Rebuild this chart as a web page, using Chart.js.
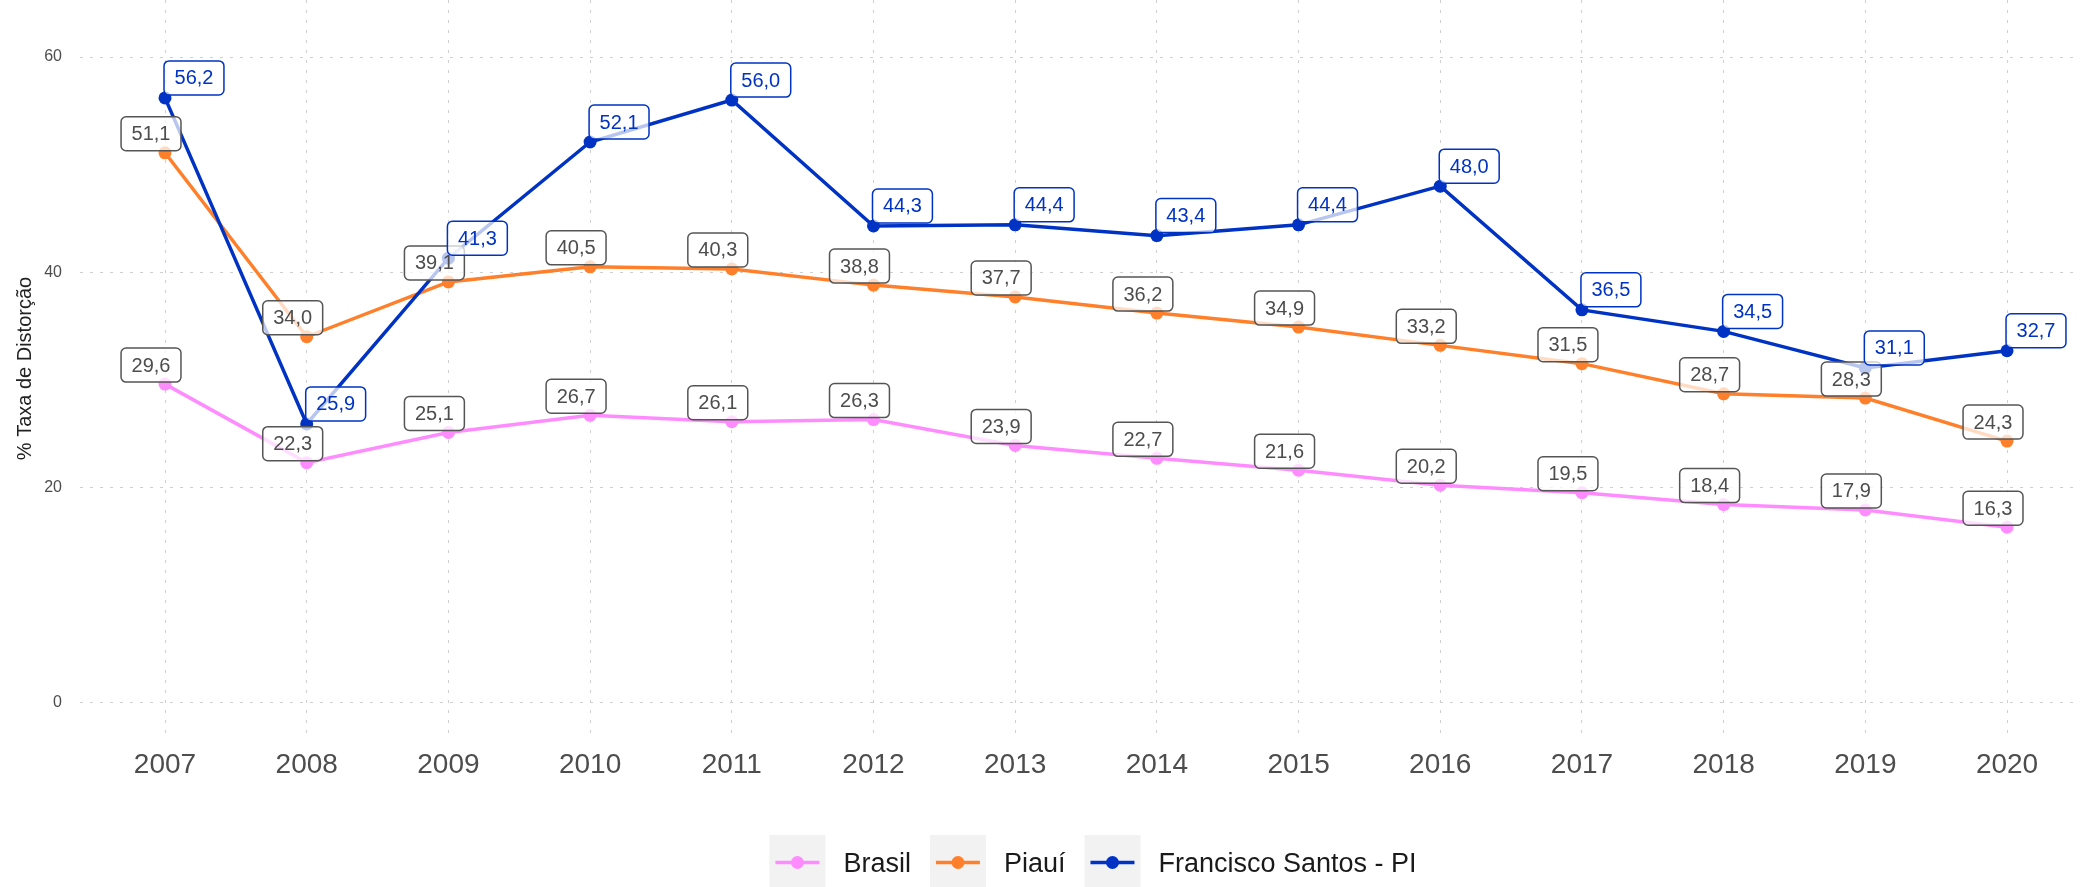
<!DOCTYPE html>
<html>
<head>
<meta charset="utf-8">
<script src="https://cdn.jsdelivr.net/npm/chart.js@4.4.1/dist/chart.umd.min.js"></script>
<style>
  html, body { margin: 0; padding: 0; background: #fff; overflow: hidden; }
  #wrap { width: 2080px; height: 887px; }
</style>
</head>
<body>
<div id="wrap"><canvas id="chart" width="2080" height="887"></canvas></div>
<script>
const years = [2007, 2008, 2009, 2010, 2011, 2012, 2013, 2014, 2015, 2016, 2017, 2018, 2019, 2020]
const brasil = [29.6, 22.3, 25.1, 26.7, 26.1, 26.3, 23.9, 22.7, 21.6, 20.2, 19.5, 18.4, 17.9, 16.3]
const piaui = [51.1, 34.0, 39.1, 40.5, 40.3, 38.8, 37.7, 36.2, 34.9, 33.2, 31.5, 28.7, 28.3, 24.3]
const franciscoSantos = [56.2, 25.9, 41.3, 52.1, 56.0, 44.3, 44.4, 43.4, 44.4, 48.0, 36.5, 34.5, 31.1, 32.7]
const seriesNames = ["Brasil", "Piauí", "Francisco Santos - PI"]

const FONT = "'Liberation Sans', Arial, Helvetica, sans-serif"
const PINK = "#ff8cff"
const ORANGE = "#ff7f2a"
const BLUE = "#0033c4"
const GRID = "#cfcfcf"

const fmt = v => v.toFixed(1).replace(".", ",")
const toPoints = values => years.map((x, i) => ({ x, y: values[i] }))

const makeDataset = (label, values, color, labelStyle, order) => ({
  label,
  data: toPoints(values),
  borderColor: color,
  backgroundColor: color,
  borderWidth: 3.5,
  pointRadius: 6.5,
  pointBorderWidth: 0,
  pointHoverRadius: 6.5,
  tension: 0,
  labelStyle,
  order,
})

// boxed value labels: grey ones sit above-left of the point, blue ones above-right
const valueLabels = {
  id: "valueLabels",
  afterDatasetsDraw(chart) {
    const { ctx } = chart
    ctx.save()
    ctx.font = `20px ${FONT}`
    ctx.textAlign = "center"
    ctx.textBaseline = "middle"
    ctx.lineWidth = 1.5

    chart.data.datasets.forEach((ds, i) => {
      const meta = chart.getDatasetMeta(i)
      const blue = ds.labelStyle === "blue"
      meta.data.forEach((pt, j) => {
        const text = fmt(ds.data[j].y)
        const w = ctx.measureText(text).width + 21
        const h = 34
        const left = blue ? pt.x - 1 : pt.x - 14 - w / 2
        const top = blue ? pt.y - 3 - h : pt.y - 2 - h

        ctx.beginPath()
        ctx.roundRect(left, top, w, h, 5)
        ctx.fillStyle = "rgba(255,255,255,0.72)"
        ctx.fill()
        ctx.strokeStyle = blue ? BLUE : "#555555"
        ctx.stroke()

        ctx.fillStyle = blue ? BLUE : "#4d4d4d"
        ctx.fillText(text, left + w / 2, top + h / 2 + 1)
      })
    })
    ctx.restore()
  },
}

// legend along the bottom: grey key squares with a line and a dot
const bottomLegend = {
  id: "bottomLegend",
  afterDraw(chart) {
    const { ctx } = chart
    const keyW = 56
    const keyTop = 835
    const keyToText = 18
    const textToKey = 19
    const centre = 1093

    ctx.save()
    ctx.font = `27px ${FONT}`
    const items = chart.data.datasets.map(ds => ({
      label: ds.label,
      color: ds.borderColor,
      width: ctx.measureText(ds.label).width,
    }))
    const total = items.reduce((s, it) => s + keyW + keyToText + it.width, 0) + textToKey * (items.length - 1)
    let x = centre - total / 2

    items.forEach(it => {
      ctx.fillStyle = "#f2f2f2"
      ctx.fillRect(x, keyTop, keyW, 60)

      const midY = 862.5
      ctx.strokeStyle = it.color
      ctx.lineWidth = 3.5
      ctx.beginPath()
      ctx.moveTo(x + 6, midY)
      ctx.lineTo(x + keyW - 6, midY)
      ctx.stroke()
      ctx.fillStyle = it.color
      ctx.beginPath()
      ctx.arc(x + keyW / 2, midY, 6.5, 0, Math.PI * 2)
      ctx.fill()

      ctx.fillStyle = "#1a1a1a"
      ctx.textAlign = "left"
      ctx.textBaseline = "middle"
      ctx.fillText(it.label, x + keyW + keyToText, midY + 2)

      x += keyW + keyToText + it.width + textToKey
    })
    ctx.restore()
  },
}

new Chart(document.getElementById("chart"), {
  type: "line",
  data: {
    datasets: [
      makeDataset(seriesNames[0], brasil, PINK, "grey", 3),
      makeDataset(seriesNames[1], piaui, ORANGE, "grey", 2),
      makeDataset(seriesNames[2], franciscoSantos, BLUE, "blue", 1),
    ],
  },
  options: {
    responsive: false,
    animation: false,
    layout: { padding: 0, autoPadding: false },
    scales: {
      x: {
        type: "linear",
        min: 2006.4,
        max: 2020.515,
        afterFit: scale => {
          scale.height = 150
          scale.paddingLeft = 0
          scale.paddingRight = 0
        },
        border: { display: false, dash: [3, 7] },
        grid: { color: GRID, lineWidth: 1, drawTicks: false },
        ticks: {
          stepSize: 1,
          includeBounds: false,
          padding: 11,
          color: "#4d4d4d",
          font: { family: FONT, size: 28 },
          callback: v => String(v),
        },
      },
      y: {
        min: -3.2,
        max: 65.3,
        afterFit: scale => {
          scale.width = 80
          scale.paddingTop = 0
          scale.paddingBottom = 0
        },
        border: { display: false, dash: [3, 7] },
        grid: { color: GRID, lineWidth: 1, drawTicks: false },
        ticks: {
          stepSize: 20,
          includeBounds: false,
          padding: 18,
          color: "#4d4d4d",
          font: { family: FONT, size: 16 },
          callback: v => String(v),
        },
        title: {
          display: true,
          text: "% Taxa de Distorção",
          color: "#222",
          font: { family: FONT, size: 20, lineHeight: 1.2 },
          padding: { top: 13, bottom: 0 },
        },
      },
    },
    plugins: {
      legend: { display: false },
      tooltip: { enabled: false },
    },
  },
  plugins: [valueLabels, bottomLegend],
})
</script>
</body>
</html>
